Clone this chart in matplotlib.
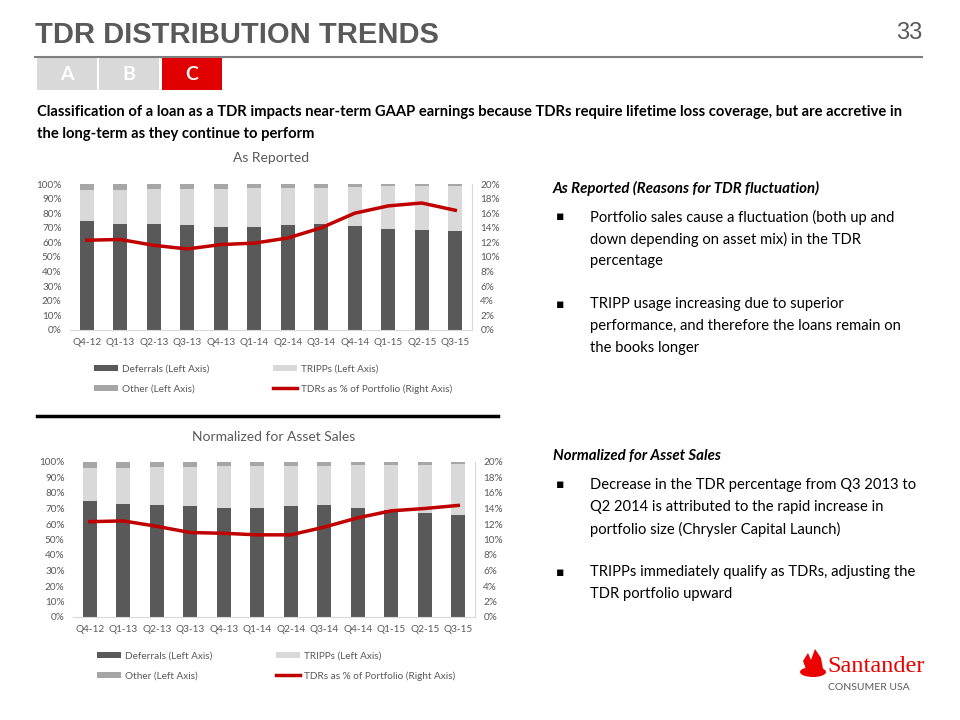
import matplotlib
matplotlib.use("Agg")
import matplotlib.pyplot as plt
import numpy as np
from matplotlib.patches import Rectangle, Ellipse, Polygon
from matplotlib.ticker import PercentFormatter

quarters = ['Q4-12', 'Q1-13', 'Q2-13', 'Q3-13', 'Q4-13', 'Q1-14', 'Q2-14',
            'Q3-14', 'Q4-14', 'Q1-15', 'Q2-15', 'Q3-15']

# As Reported (share of TDR balance, left axis) and TDR % of portfolio (right axis)
rep_deferrals = [74.9, 72.7, 72.7, 71.8, 70.6, 70.6, 71.8, 72.7, 71.5, 69.5, 68.8, 67.7]
rep_tripps = [21.0, 23.2, 23.7, 25.0, 26.2, 26.4, 25.5, 24.8, 26.2, 28.9, 29.8, 30.9]
rep_other = [4.1, 4.1, 3.6, 3.2, 3.2, 3.0, 2.7, 2.5, 2.3, 1.6, 1.4, 1.4]
rep_tdr_pct = [12.3, 12.4, 11.6, 11.1, 11.7, 11.9, 12.6, 14.0, 16.0, 17.0, 17.4, 16.4]

# Normalized for Asset Sales
norm_deferrals = [74.9, 72.7, 72.5, 71.7, 70.6, 70.6, 71.7, 72.3, 70.6, 69.0, 67.4, 66.1]
norm_tripps = [21.0, 23.7, 24.1, 25.3, 26.6, 26.8, 25.7, 25.3, 27.5, 29.3, 30.9, 32.4]
norm_other = [4.1, 3.6, 3.4, 3.0, 2.8, 2.6, 2.6, 2.4, 1.9, 1.7, 1.7, 1.5]
norm_tdr_pct = [12.3, 12.4, 11.7, 10.9, 10.8, 10.6, 10.6, 11.6, 12.8, 13.7, 14.0, 14.4]

legend_labels = ['Deferrals (Left Axis)', 'Other (Left Axis)',
                 'TRIPPs (Left Axis)', 'TDRs as % of Portfolio (Right Axis)']

W, H = 960, 720
GREY = '#595959'
RED = '#c00000'
FONT = ['Lato', 'DejaVu Sans']

fig = plt.figure(figsize=(9.6, 7.2), dpi=100)


def box(x0, y0, x1, y1):
    return [x0 / W, 1 - y1 / H, (x1 - x0) / W, (y1 - y0) / H]


# overlay in pixel coordinates for slide decorations
bg = fig.add_axes([0, 0, 1, 1], zorder=0)
bg.set_xlim(0, W)
bg.set_ylim(H, 0)
bg.axis('off')

bg.text(35, 35, 'TDR DISTRIBUTION TRENDS', fontsize=21, fontweight='bold', color=GREY,
        family=['Liberation Sans Narrow', 'Liberation Sans'], va='center', ha='left')
bg.text(922, 33, '33', fontsize=17, color=GREY, family=['Liberation Sans Narrow', 'Liberation Sans'],
        va='center', ha='right')
bg.plot([35, 922], [57, 57], color='#7f7f7f', lw=1.5)

for letter, x0, col in [('A', 37, '#d9d9d9'), ('B', 99, '#d9d9d9'), ('C', 162, '#e00000')]:
    bg.add_patch(Rectangle((x0, 58), 60, 32, color=col, lw=0))
    bg.text(x0 + 30, 75, letter, color='white', fontsize=14, fontweight='bold',
            family=FONT, ha='center', va='center')

subtitle = ('Classification of a loan as a TDR impacts near-term GAAP earnings because TDRs require '
            'lifetime loss coverage, but are accretive in')
bg.text(37, 112, subtitle, fontsize=10.65, fontweight='bold', family=FONT, va='center', color='black')
bg.text(37, 134, 'the long-term as they continue to perform', fontsize=10.65, fontweight='bold',
        family=FONT, va='center', color='black')

bg.plot([37, 498], [416, 416], color='black', lw=2.5)


def bullets(y_head, head, items):
    bg.text(553, y_head, head, fontsize=10.8, fontweight='bold', style='italic', family=FONT,
            va='center', color='black')
    y = y_head + 29
    for lines in items:
        bg.text(556, y, '\u25aa', fontsize=9, family=['DejaVu Sans'], va='center', color='black')
        for ln in lines:
            bg.text(590, y, ln, fontsize=10.6, family=FONT, va='center', color='black')
            y += 22
        y += 21


bullets(188, 'As Reported (Reasons for TDR fluctuation)',
        [['Portfolio sales cause a fluctuation (both up and',
          'down depending on asset mix) in the TDR', 'percentage'],
         ['TRIPP usage increasing due to superior',
          'performance, and therefore the loans remain on', 'the books longer']])
bullets(456, 'Normalized for Asset Sales',
        [['Decrease in the TDR percentage from Q3 2013 to',
          'Q2 2014 is attributed to the rapid increase in',
          'portfolio size (Chrysler Capital Launch)'],
         ['TRIPPs immediately qualify as TDRs, adjusting the', 'TDR portfolio upward']])

# Santander logo
bg.add_patch(Ellipse((813, 672), 26, 10, color='#ec0000', lw=0))
bg.add_patch(Polygon([(806, 669), (803, 661), (808, 653), (811, 660), (815, 649),
                      (821, 658), (823, 669)], closed=True, color='#ec0000', lw=0))
bg.text(827, 667, 'Santander', fontsize=17.5, color='#ec0000', family=['Liberation Serif'],
        va='center', ha='left')
bg.text(828, 688, 'CONSUMER USA', fontsize=7.5, color=GREY, family=FONT, va='center', ha='left')


def draw_chart(rect, title, deferrals, tripps, other, tdr_pct, title_y, legend_y):
    ax = fig.add_axes(box(*rect), zorder=2)
    x = np.arange(len(quarters))
    d = np.array(deferrals)
    t = np.array(tripps)
    o = np.array(other)
    b1 = ax.bar(x, d, width=0.42, color='#595959')
    b2 = ax.bar(x, t, width=0.42, bottom=d, color='#d9d9d9')
    b3 = ax.bar(x, o, width=0.42, bottom=d + t, color='#a6a6a6')
    ax.set_xlim(-0.5, len(quarters) - 0.5)
    ax.set_ylim(0, 100)
    ax.set_yticks(np.arange(0, 101, 10))
    ax.yaxis.set_major_formatter(PercentFormatter(decimals=0))
    ax.set_xticks(x)
    ax.set_xticklabels(quarters)
    for s in ['top', 'right', 'left']:
        ax.spines[s].set_visible(False)
    ax.spines['bottom'].set_color('#d9d9d9')
    ax.tick_params(length=0, labelsize=7.2, labelcolor=GREY, pad=6)
    ax.patch.set_alpha(0)

    ax2 = ax.twinx()
    l1, = ax2.plot(x, tdr_pct, color=RED, lw=2.5)
    ax2.set_ylim(0, 20)
    ax2.set_yticks(np.arange(0, 21, 2))
    ax2.yaxis.set_major_formatter(PercentFormatter(decimals=0))
    for s in ['top', 'left', 'bottom']:
        ax2.spines[s].set_visible(False)
    ax2.spines['right'].set_color('#d9d9d9')
    ax2.tick_params(length=0, labelsize=7.2, labelcolor=GREY, pad=6)

    for lab in ax.get_xticklabels() + ax.get_yticklabels() + ax2.get_yticklabels():
        lab.set_family(FONT)

    bg.text((rect[0] + rect[2]) / 2, title_y, title, fontsize=10, color=GREY, family=FONT,
            ha='center', va='center')
    fig.legend([b1, b3, b2, l1], legend_labels, ncol=2, loc='center left',
               bbox_to_anchor=((rect[0] + 15) / W, 1 - legend_y / H), frameon=False,
               prop={'family': FONT, 'size': 7.2}, labelcolor=GREY, handlelength=2.4,
               handleheight=0.6, handletextpad=0.4, columnspacing=6.4, labelspacing=1.1)
    return ax


draw_chart((70, 184, 472, 330), 'As Reported', rep_deferrals, rep_tripps, rep_other,
           rep_tdr_pct, 158, 379)
draw_chart((73, 462, 475, 617), 'Normalized for Asset Sales', norm_deferrals, norm_tripps,
           norm_other, norm_tdr_pct, 437, 666)

fig.savefig('out.png', dpi=100)
